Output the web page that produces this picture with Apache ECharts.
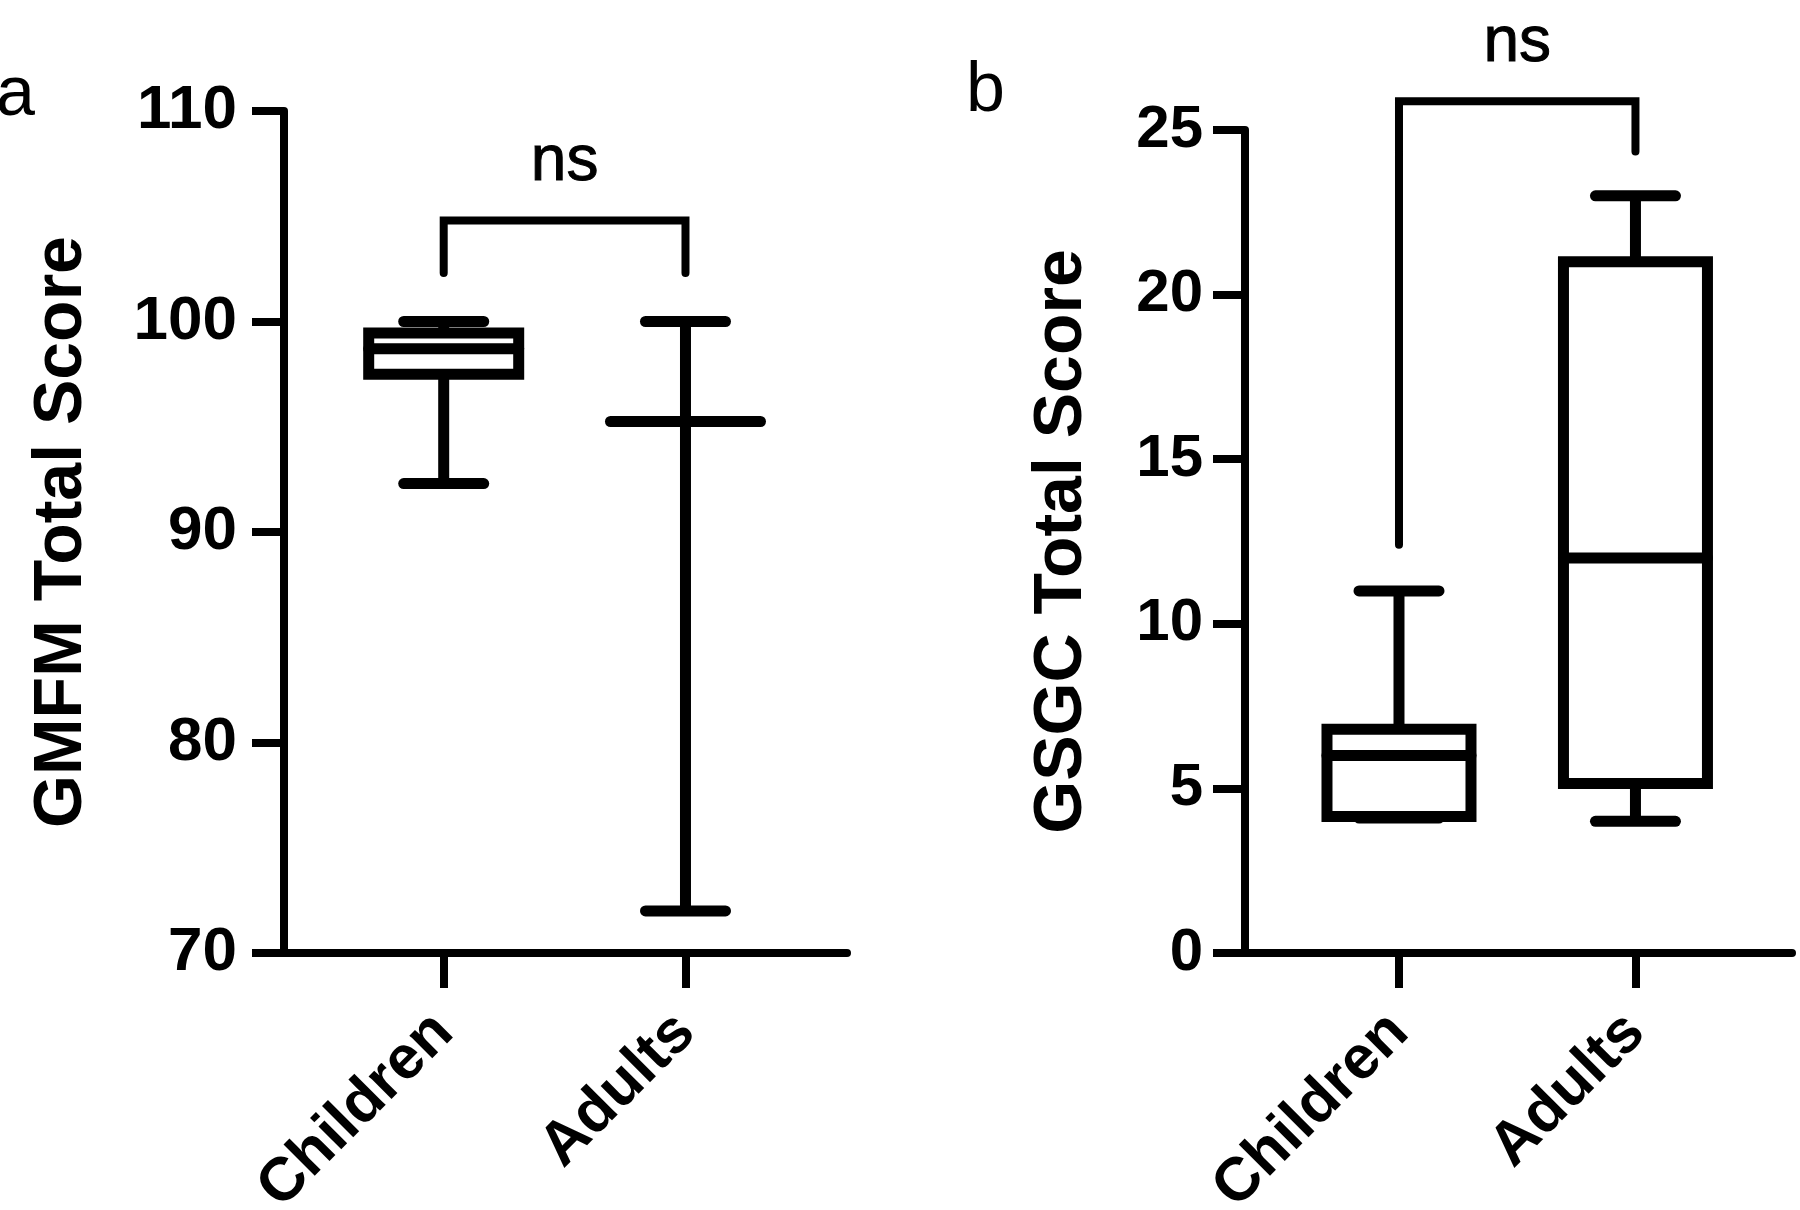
<!DOCTYPE html>
<html>
<head>
<meta charset="utf-8">
<script src="https://cdn.jsdelivr.net/npm/echarts@6/dist/echarts.min.js"></script>
<style>
html, body { margin: 0; padding: 0; background: #fff; }
#chart { width: 1800px; height: 1210px; }
</style>
</head>
<body>
<div id="chart"></div>
<script>
// ---------- data ----------
const categories = ['Children', 'Adults'];

// Panel a: GMFM Total Score (min, Q1, median, Q3, max)
const gmfmMin    = [92.3, 72.0];
const gmfmQ1     = [97.5, 95.25];
const gmfmMedian = [98.7, 95.25];
const gmfmQ3     = [99.45, 95.25];
const gmfmMax    = [100.0, 100.0];
const gmfmTicks  = [70, 110, 10];          // min, max, step
const gmfmBracket = [102.3, 104.8, 102.3]; // left leg end, top, right leg end

// Panel b: GSGC Total Score
const gsgcMin    = [4.1, 4.0];
const gsgcQ1     = [4.15, 5.15];
const gsgcMedian = [6.0, 12.0];
const gsgcQ3     = [6.8, 21.0];
const gsgcMax    = [11.0, 23.0];
const gsgcTicks  = [0, 25, 5];
const gsgcBracket = [12.4, 25.87, 24.35];

const significance = ['ns', 'ns'];
const panelLetters = ['a', 'b'];

// ---------- helpers ----------
const FONT = '"Liberation Sans", Arial, sans-serif';

function boxData(mins, q1s, meds, q3s, maxs) {
  return categories.map((c, i) => [i + 1, mins[i], q1s[i], meds[i], q3s[i], maxs[i]]);
}
function bracketData(b) {
  return [[1, b[0]], [1, b[1]], [2, b[1]], [2, b[2]]];
}

function boxRenderer(boxWidth, capWidth) {
  return function (params, api) {
    const x = api.value(0);
    const pt = v => api.coord([x, v]);
    const pMin = pt(api.value(1)), pQ1 = pt(api.value(2)), pMed = pt(api.value(3)),
          pQ3 = pt(api.value(4)), pMax = pt(api.value(5));
    const cx = pMed[0];
    const lw = 11, stroke = '#000';
    const h = boxWidth / 2, ch = capWidth / 2;
    return {
      type: 'group',
      children: [
        { type: 'line', shape: { x1: cx, y1: pQ3[1], x2: cx, y2: pMax[1] }, style: { stroke, lineWidth: lw } },
        { type: 'line', shape: { x1: cx, y1: pQ1[1], x2: cx, y2: pMin[1] }, style: { stroke, lineWidth: lw } },
        { type: 'line', shape: { x1: cx - ch, y1: pMax[1], x2: cx + ch, y2: pMax[1] }, style: { stroke, lineWidth: lw, lineCap: 'round' } },
        { type: 'line', shape: { x1: cx - ch, y1: pMin[1], x2: cx + ch, y2: pMin[1] }, style: { stroke, lineWidth: lw, lineCap: 'round' } },
        { type: 'rect', shape: { x: cx - h, y: pQ3[1], width: boxWidth, height: pQ1[1] - pQ3[1] },
          style: { fill: '#fff', stroke, lineWidth: lw, lineJoin: 'miter' } },
        { type: 'line', shape: { x1: cx - h, y1: pMed[1], x2: cx + h, y2: pMed[1] }, style: { stroke, lineWidth: lw, lineCap: 'round' } }
      ]
    };
  };
}

function xAxisCfg(gridIndex, min, max) {
  return {
    gridIndex, type: 'value', min, max,
    splitLine: { show: false },
    axisLine: { show: true, onZero: false, lineStyle: { color: '#000', width: 8 } },
    axisTick: { show: true, customValues: [1, 2], length: 35, lineStyle: { color: '#000', width: 8 } },
    axisLabel: {
      show: true, customValues: [1, 2], rotate: 45, margin: 70,
      formatter: v => categories[Math.round(v) - 1] || '',
      color: '#000', fontFamily: FONT, fontWeight: 'bold', fontSize: 61
    }
  };
}
function yAxisCfg(gridIndex, ticks, name, nameGap, labelSize, labelMargin) {
  return {
    gridIndex, type: 'value', min: ticks[0], max: ticks[1], interval: ticks[2],
    name, nameLocation: 'middle', nameGap, nameRotate: 90,
    nameTextStyle: { color: '#000', fontFamily: FONT, fontWeight: 'bold', fontSize: 68 },
    splitLine: { show: false },
    axisLine: { show: true, onZero: false, lineStyle: { color: '#000', width: 8 } },
    axisTick: { show: true, length: 32, lineStyle: { color: '#000', width: 8 } },
    axisLabel: { color: '#000', fontFamily: FONT, fontWeight: 'bold', fontSize: labelSize, margin: labelMargin }
  };
}
function bracketSeries(idx, b) {
  return {
    type: 'line', xAxisIndex: idx, yAxisIndex: idx, data: bracketData(b),
    symbol: 'none', clip: false, silent: true,
    lineStyle: { color: '#000', width: 8, cap: 'round', join: 'miter' }
  };
}
function sigSeries(idx, b, text) {
  return {
    type: 'scatter', xAxisIndex: idx, yAxisIndex: idx, data: [[1.5, b[1]]],
    symbol: 'circle', symbolSize: 0, clip: false, silent: true,
    itemStyle: { opacity: 1, color: '#000' },
    label: {
      show: true, position: 'inside', offset: [0, -58], formatter: text,
      color: '#000', opacity: 1, fontFamily: FONT, fontSize: 64,
      textBorderColor: '#000', textBorderWidth: 1
    }
  };
}

const chart = echarts.init(document.getElementById('chart'), null, { renderer: 'canvas' });
chart.setOption({
  animation: false,
  backgroundColor: '#fff',
  grid: [
    { left: 284, top: 111, width: 563, height: 842, containLabel: false, outerBoundsMode: 'none' },
    { left: 1245, top: 130, width: 547, height: 823, containLabel: false, outerBoundsMode: 'none' }
  ],
  xAxis: [xAxisCfg(0, 0.3395, 2.668), xAxisCfg(1, 0.3488, 2.662)],
  yAxis: [
    yAxisCfg(0, gmfmTicks, 'GMFM Total Score', 188, 62, 47),
    yAxisCfg(1, gsgcTicks, 'GSGC Total Score', 149, 60, 42)
  ],
  graphic: [
    { type: 'text', left: -4, top: 61, style: { text: panelLetters[0], font: '70px ' + FONT, fill: '#000' } },
    { type: 'text', left: 966, top: 57, style: { text: panelLetters[1], font: '70px ' + FONT, fill: '#000' } }
  ],
  series: [
    { type: 'custom', xAxisIndex: 0, yAxisIndex: 0, clip: false, silent: true,
      renderItem: boxRenderer(150, 80),
      encode: { x: 0, y: [1, 2, 3, 4, 5] },
      data: boxData(gmfmMin, gmfmQ1, gmfmMedian, gmfmQ3, gmfmMax) },
    { type: 'custom', xAxisIndex: 1, yAxisIndex: 1, clip: false, silent: true,
      renderItem: boxRenderer(144, 80),
      encode: { x: 0, y: [1, 2, 3, 4, 5] },
      data: boxData(gsgcMin, gsgcQ1, gsgcMedian, gsgcQ3, gsgcMax) },
    bracketSeries(0, gmfmBracket),
    bracketSeries(1, gsgcBracket),
    sigSeries(0, gmfmBracket, significance[0]),
    sigSeries(1, gsgcBracket, significance[1])
  ]
});
</script>
</body>
</html>
